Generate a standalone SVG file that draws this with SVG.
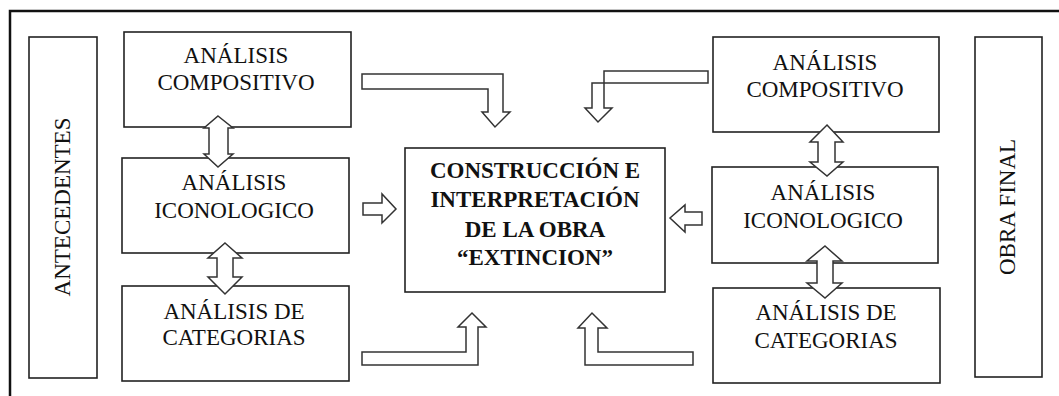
<svg xmlns="http://www.w3.org/2000/svg" width="1059" height="396" viewBox="0 0 1059 396">
<style>
.box{fill:#fff;stroke:#222;stroke-width:1.6}
.arr{fill:#fff;stroke:#333;stroke-width:1.5;stroke-linejoin:miter}
.t{font-family:'Liberation Serif','Times New Roman',Tinos,'DejaVu Serif',serif;font-size:23px;fill:#111;text-anchor:middle}
.b{font-weight:bold}
</style>
<rect x="0" y="0" width="1059" height="396" fill="#fff"/>
<rect x="10" y="11" width="1060" height="400" fill="none" stroke="#111" stroke-width="2.5"/>
<g id="antecedentes">
<rect class="box" x="29" y="37" width="68" height="341"/>
<text class="t" font-family="Liberation Serif, DejaVu Serif, serif" transform="translate(70,207) rotate(-90)">ANTECEDENTES</text>
</g>
<g id="obra-final">
<rect class="box" x="975" y="37" width="67" height="340"/>
<text class="t" font-family="Liberation Serif, DejaVu Serif, serif" transform="translate(1015,207) rotate(-90)">OBRA FINAL</text>
</g>
<g id="l-compositivo">
<rect class="box" x="124" y="32" width="227" height="95"/>
<text class="t" x="236" y="63">ANÁLISIS</text>
<text class="t" x="236" y="90">COMPOSITIVO</text>
</g>
<g id="l-iconologico">
<rect class="box" x="122" y="158" width="227" height="95"/>
<text class="t" x="234" y="190">ANÁLISIS</text>
<text class="t" x="234" y="218">ICONOLOGICO</text>
</g>
<g id="l-categorias">
<rect class="box" x="122" y="286" width="227" height="95"/>
<text class="t" x="234" y="319">ANÁLISIS DE</text>
<text class="t" x="234" y="345">CATEGORIAS</text>
</g>
<g id="r-compositivo">
<rect class="box" x="713" y="37" width="226" height="95"/>
<text class="t" x="825" y="70">ANÁLISIS</text>
<text class="t" x="825" y="97">COMPOSITIVO</text>
</g>
<g id="r-iconologico">
<rect class="box" x="712" y="167" width="226" height="96"/>
<text class="t" x="823" y="200">ANÁLISIS</text>
<text class="t" x="823" y="228">ICONOLOGICO</text>
</g>
<g id="r-categorias">
<rect class="box" x="713" y="288" width="227" height="95"/>
<text class="t" x="826" y="320">ANÁLISIS DE</text>
<text class="t" x="826" y="348">CATEGORIAS</text>
</g>
<g id="centro">
<rect class="box" x="405" y="148" width="260" height="144"/>
<text class="t b" x="535" y="178">CONSTRUCCIÓN E</text>
<text class="t b" x="535" y="207">INTERPRETACIÓN</text>
<text class="t b" x="535" y="237">DE LA OBRA</text>
<text class="t b" x="535" y="265">“EXTINCION”</text>
</g>
<g id="connectors">
<path class="arr" d="M218,116 L233,128 L228,128 L228,154 L233,154 L218,167 L204,154 L209,154 L209,128 L204,128 Z"/>
<path class="arr" d="M225,243 L242,258 L233,258 L233,277 L242,277 L225,294 L208,277 L217,277 L217,258 L208,258 Z"/>
<path class="arr" d="M827,125 L843,142 L835,142 L835,162 L843,162 L827,176 L810,162 L818,162 L818,142 L810,142 Z"/>
<path class="arr" d="M825,246 L842,261 L833,261 L833,283 L842,283 L825,298 L807,283 L817,283 L817,261 L807,261 Z"/>
<path class="arr" d="M362,74 L503,74 L503,112 L510,112 L495,127 L482,112 L488,112 L488,89 L362,89 Z"/>
<path class="arr" d="M708,71 L604,71 L604,108 L612,108 L598,122 L585,108 L592,108 L592,83 L708,83 Z"/>
<path class="arr" d="M363,203 L382,203 L382,194 L396,209 L382,223 L382,215 L363,215 Z"/>
<path class="arr" d="M702,212 L685,212 L685,205 L670,218 L685,232 L685,225 L702,225 Z"/>
<path class="arr" d="M362,365 L478,365 L478,327 L486,327 L472,313 L458,327 L466,327 L466,352 L362,352 Z"/>
<path class="arr" d="M693,365 L585,365 L585,328 L578,328 L592,313 L607,328 L598,328 L598,352 L693,352 Z"/>
</g>
</svg>
